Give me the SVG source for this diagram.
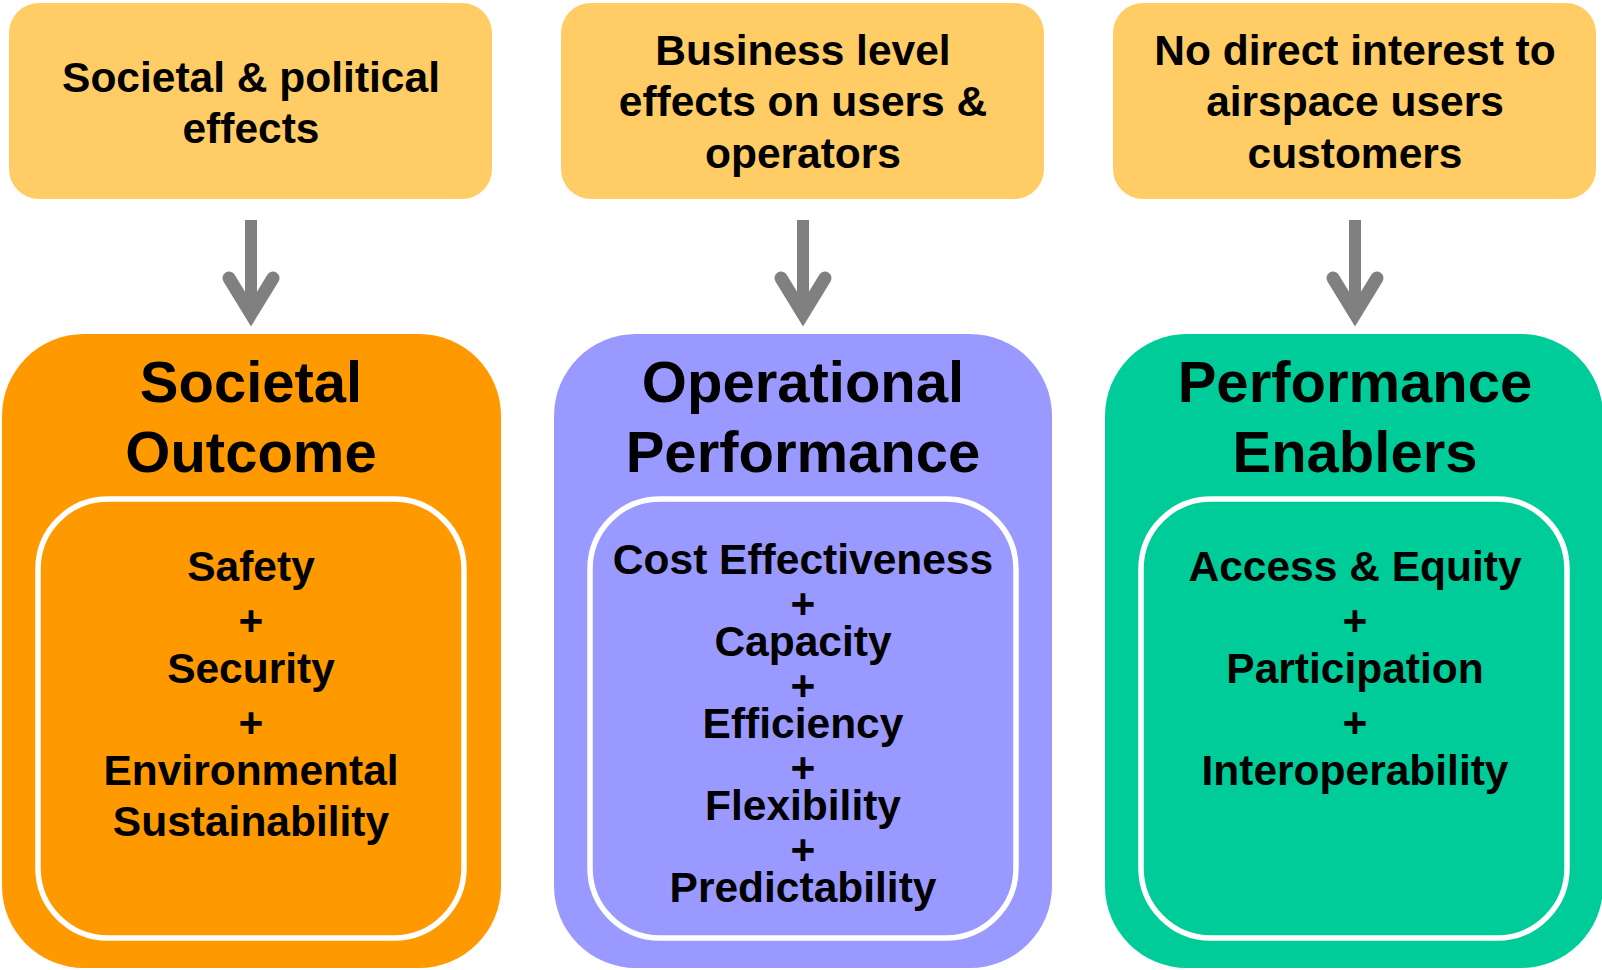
<svg xmlns="http://www.w3.org/2000/svg" width="1602" height="970" viewBox="0 0 1602 970">
<style>
text{font-family:"Liberation Sans",Arial,sans-serif;font-weight:bold;fill:#000;text-anchor:middle}
.top{fill:#FFCC66}
.t{font-size:42.5px}
.h{font-size:58px}
.in{fill:none;stroke:#fff;stroke-width:5.5}
.arr{stroke:#808080;fill:none}
</style>
<g id="connectors">
<g class="arr">
<line x1="251" y1="220" x2="251" y2="305" stroke-width="12"/>
<polyline points="229,278 251,314 273,278" stroke-width="13" stroke-linecap="round" stroke-linejoin="miter" stroke-miterlimit="10"/>
<line x1="803" y1="220" x2="803" y2="305" stroke-width="12"/>
<polyline points="781,278 803,314 825,278" stroke-width="13" stroke-linecap="round" stroke-linejoin="miter" stroke-miterlimit="10"/>
<line x1="1355" y1="220" x2="1355" y2="305" stroke-width="12"/>
<polyline points="1333,278 1355,314 1377,278" stroke-width="13" stroke-linecap="round" stroke-linejoin="miter" stroke-miterlimit="10"/>
</g>
</g>
<g id="top1">
<rect class="top" x="9" y="3" width="483" height="196" rx="30"/>
<text class="t" x="251" y="92">Societal &amp; political</text>
<text class="t" x="251" y="143">effects</text>
</g>
<g id="top2">
<rect class="top" x="561" y="3" width="483" height="196" rx="30"/>
<text class="t" x="803" y="65">Business level</text>
<text class="t" x="803" y="116">effects on users &amp;</text>
<text class="t" x="803" y="168">operators</text>
</g>
<g id="top3">
<rect class="top" x="1113" y="3" width="483" height="196" rx="30"/>
<text class="t" x="1355" y="65">No direct interest to</text>
<text class="t" x="1355" y="116">airspace users</text>
<text class="t" x="1355" y="168">customers</text>
</g>
<g id="societal">
<rect x="2" y="334" width="499" height="634" rx="82" fill="#FF9900"/>
<rect class="in" x="38" y="499" width="426" height="439" rx="70"/>
<text class="h" x="251" y="402">Societal</text>
<text class="h" x="251" y="472">Outcome</text>
<text class="t" x="251" y="581">Safety</text>
<text class="t" x="251" y="635">+</text>
<text class="t" x="251" y="683">Security</text>
<text class="t" x="251" y="737">+</text>
<text class="t" x="251" y="785">Environmental</text>
<text class="t" x="251" y="836">Sustainability</text>
</g>
<g id="operational">
<rect x="554" y="334" width="498" height="634" rx="82" fill="#9999FF"/>
<rect class="in" x="590" y="499" width="426" height="439" rx="70"/>
<text class="h" x="803" y="402">Operational</text>
<text class="h" x="803" y="472">Performance</text>
<text class="t" x="803" y="574">Cost Effectiveness</text>
<text class="t" x="803" y="618">+</text>
<text class="t" x="803" y="656">Capacity</text>
<text class="t" x="803" y="700">+</text>
<text class="t" x="803" y="738">Efficiency</text>
<text class="t" x="803" y="782">+</text>
<text class="t" x="803" y="820">Flexibility</text>
<text class="t" x="803" y="864">+</text>
<text class="t" x="803" y="902">Predictability</text>
</g>
<g id="enablers">
<rect x="1105" y="334" width="498" height="634" rx="82" fill="#00CC99"/>
<rect class="in" x="1141" y="499" width="426" height="439" rx="70"/>
<text class="h" x="1355" y="402">Performance</text>
<text class="h" x="1355" y="472">Enablers</text>
<text class="t" x="1355" y="581">Access &amp; Equity</text>
<text class="t" x="1355" y="635">+</text>
<text class="t" x="1355" y="683">Participation</text>
<text class="t" x="1355" y="737">+</text>
<text class="t" x="1355" y="785">Interoperability</text>
</g>
</svg>
